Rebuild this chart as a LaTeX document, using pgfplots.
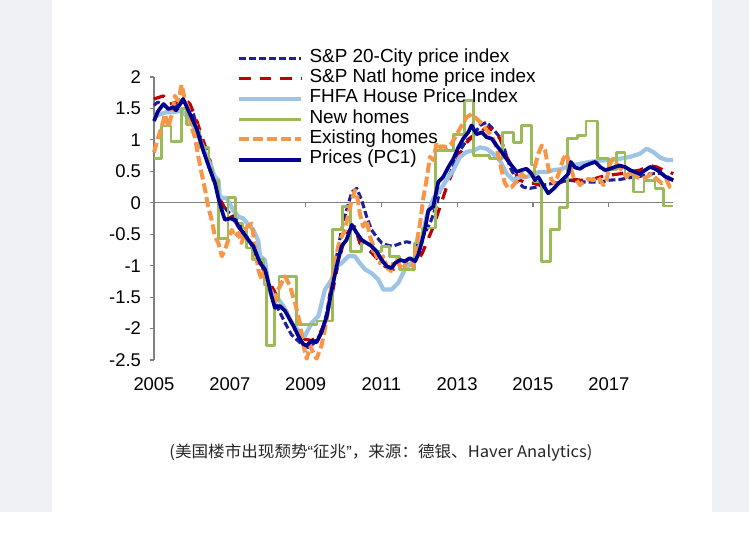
\documentclass[border=0pt]{standalone}
\usepackage{fontspec}
\setmainfont{Liberation Sans}
\newfontfamily\cjk{Noto Sans CJK SC}
\usepackage{graphicx}
\usepackage{pgfplots}
\pgfplotsset{compat=1.18}
\definecolor{bg}{HTML}{F0F1F5}
\definecolor{axgray}{HTML}{808080}
\definecolor{c20}{HTML}{1F1F99}
\definecolor{cnat}{HTML}{C00000}
\definecolor{cfh}{HTML}{9DC3E6}
\definecolor{cnew}{HTML}{9BBB59}
\definecolor{cex}{HTML}{F79646}
\definecolor{cpc}{HTML}{000090}
\definecolor{captxt}{HTML}{262626}
\begin{document}
\begin{tikzpicture}
\useasboundingbox (0bp,0bp) rectangle (749bp,538bp);
\fill[white] (0bp,0bp) rectangle (749bp,538bp);
\fill[bg] (0bp,26bp) rectangle (52bp,538bp);
\fill[bg] (712bp,26bp) rectangle (749bp,538bp);
\begin{axis}[
  at={(154bp,178bp)}, anchor=south west,
  scale only axis, width=519.2bp, height=283bp,
  xmin=2005, xmax=2018.7, ymin=-2.5, ymax=2,
  clip=false,
  axis y line*=left, axis x line*=bottom,
  x axis line style={draw=none},
  y axis line style={draw=axgray, line width=1.1bp},
  xtick={2005,2007,2009,2011,2013,2015,2017},
  xticklabels={2005,2007,2009,2011,2013,2015,2017},
  ytick={-2.5,-2,-1.5,-1,-0.5,0,0.5,1,1.5,2},
  yticklabels={-2.5,-2,-1.5,-1,-0.5,0,0.5,1,1.5,2},
  /pgf/number format/assume math mode=true,
  tick align=outside, major tick length=4.5bp,
  y tick style={draw=axgray, line width=1.1bp},
  x tick style={draw=none},
  y tick label style={font=\fontsize{18.5}{20}\selectfont, xshift=-5bp},
  x tick label style={font=\fontsize{18.5}{20}\selectfont, yshift=-10bp},
  legend style={at={(0.1605,1.102)}, anchor=north west, draw=none, fill=none,
    font=\fontsize{19}{20}\selectfont, inner sep=0pt, outer sep=0pt,
    row sep=0pt, column sep=6bp,
    nodes={inner sep=0pt, text height=14bp, text depth=6.3bp}},
  legend cell align=left,
  legend image code/.code={\draw[#1] (0bp,0bp) -- (62bp,0bp);},
  every axis plot/.append style={line join=round},
]
\draw[axgray, line width=1.1bp] (axis cs:2005,0) -- (axis cs:2018.7,0);
\pgfplotsinvokeforeach{2007,2009,2011,2013,2015,2017}{
  \draw[axgray, line width=1.1bp] (axis cs:#1,0) -- ([yshift=-4.5bp]axis cs:#1,0);
}
\addplot[c20, line width=3.1bp, dash pattern=on 7bp off 3bp] coordinates {
(2005.00,1.55)(2005.10,1.60)(2005.18,1.58)(2005.33,1.52)(2005.50,1.52)(2005.65,1.55)(2005.77,1.62)(2006.04,1.41)(2006.30,0.88)(2006.56,0.41)(2006.74,0.04)(2006.92,-0.12)(2007.18,-0.27)(2007.45,-0.54)(2007.80,-0.91)(2008.06,-1.33)(2008.24,-1.64)(2008.41,-1.85)(2008.52,-1.98)(2008.63,-2.10)(2008.81,-2.20)(2008.94,-2.27)(2009.07,-2.30)(2009.25,-2.22)(2009.42,-2.06)(2009.56,-1.75)(2009.69,-1.27)(2009.82,-0.85)(2009.95,-0.43)(2010.08,-0.12)(2010.22,0.17)(2010.35,0.23)(2010.48,0.04)(2010.61,-0.22)(2010.74,-0.43)(2010.87,-0.54)(2011.01,-0.64)(2011.14,-0.67)(2011.27,-0.69)(2011.40,-0.67)(2011.53,-0.64)(2011.67,-0.62)(2011.80,-0.64)(2011.93,-0.67)(2012.06,-0.56)(2012.15,-0.48)(2012.30,-0.30)(2012.45,-0.05)(2012.55,0.20)(2012.81,0.46)(2013.07,0.83)(2013.25,0.99)(2013.43,1.07)(2013.60,1.23)(2013.78,1.28)(2013.95,1.17)(2014.13,1.04)(2014.26,0.83)(2014.39,0.57)(2014.57,0.36)(2014.74,0.25)(2014.92,0.23)(2015.10,0.25)(2015.27,0.28)(2015.54,0.31)(2015.71,0.33)(2015.98,0.36)(2016.24,0.33)(2016.50,0.33)(2016.77,0.33)(2017.03,0.36)(2017.29,0.37)(2017.56,0.40)(2017.82,0.42)(2018.09,0.46)(2018.35,0.47)(2018.53,0.42)(2018.70,0.36)
};
\addlegendentry{S\&P 20-City price index}
\addplot[cnat, line width=3.2bp, dash pattern=on 11.5bp off 9bp] coordinates {
(2005.00,1.65)(2005.25,1.70)(2005.42,1.57)(2005.60,1.60)(2005.77,1.67)(2005.95,1.57)(2006.13,1.30)(2006.30,0.99)(2006.48,0.67)(2006.65,0.25)(2006.79,-0.01)(2006.96,-0.17)(2007.18,-0.33)(2007.45,-0.59)(2007.71,-0.85)(2007.97,-1.17)(2008.24,-1.48)(2008.41,-1.64)(2008.59,-1.82)(2008.72,-2.02)(2008.98,-2.17)(2009.16,-2.19)(2009.34,-2.12)(2009.51,-1.91)(2009.69,-1.48)(2009.86,-0.96)(2010.04,-0.54)(2010.17,-0.43)(2010.30,-0.38)(2010.43,-0.64)(2010.57,-0.72)(2010.70,-0.77)(2010.83,-0.85)(2010.96,-0.93)(2011.09,-1.01)(2011.27,-1.06)(2011.45,-1.04)(2011.62,-1.01)(2011.80,-0.96)(2011.97,-0.91)(2012.08,-0.80)(2012.19,-0.64)(2012.37,-0.38)(2012.55,-0.06)(2012.72,0.25)(2012.90,0.52)(2013.07,0.78)(2013.25,0.96)(2013.43,1.07)(2013.60,1.12)(2013.78,1.20)(2013.95,1.15)(2014.13,1.02)(2014.31,0.73)(2014.48,0.52)(2014.66,0.36)(2014.83,0.31)(2015.01,0.31)(2015.18,0.28)(2015.36,0.28)(2015.54,0.31)(2015.71,0.32)(2015.98,0.38)(2016.24,0.36)(2016.50,0.36)(2016.77,0.41)(2017.03,0.44)(2017.29,0.46)(2017.56,0.49)(2017.82,0.52)(2018.09,0.59)(2018.26,0.57)(2018.44,0.52)(2018.61,0.49)(2018.70,0.46)
};
\addlegendentry{S\&P Natl home price index}
\addplot[cfh, line width=4.2bp] coordinates {
(2005.00,1.36)(2005.16,1.41)(2005.33,1.44)(2005.51,1.44)(2005.69,1.46)(2005.77,1.44)(2005.95,1.31)(2006.13,1.12)(2006.30,0.88)(2006.48,0.62)(2006.61,0.41)(2006.70,0.36)(2006.74,0.09)(2006.92,0.07)(2007.09,-0.12)(2007.23,-0.22)(2007.36,-0.25)(2007.49,-0.35)(2007.62,-0.43)(2007.75,-0.60)(2007.80,-0.85)(2007.93,-0.91)(2008.02,-1.33)(2008.15,-1.48)(2008.28,-1.53)(2008.41,-1.64)(2008.52,-1.77)(2008.63,-1.91)(2008.85,-2.06)(2008.98,-2.12)(2009.16,-1.91)(2009.34,-1.80)(2009.51,-1.38)(2009.69,-1.22)(2009.82,-1.01)(2009.95,-0.96)(2010.13,-0.85)(2010.30,-0.85)(2010.43,-0.96)(2010.57,-1.06)(2010.74,-1.12)(2010.92,-1.22)(2011.05,-1.38)(2011.27,-1.38)(2011.45,-1.27)(2011.62,-1.06)(2011.80,-0.96)(2011.97,-0.75)(2012.10,-0.50)(2012.19,-0.22)(2012.37,0.07)(2012.55,0.20)(2012.72,0.36)(2012.90,0.52)(2013.07,0.73)(2013.25,0.81)(2013.43,0.83)(2013.60,0.88)(2013.78,0.86)(2013.95,0.78)(2014.13,0.67)(2014.31,0.46)(2014.48,0.36)(2014.66,0.41)(2014.83,0.41)(2015.01,0.46)(2015.18,0.49)(2015.36,0.49)(2015.54,0.52)(2015.71,0.53)(2015.98,0.59)(2016.24,0.62)(2016.50,0.65)(2016.77,0.67)(2017.03,0.68)(2017.29,0.70)(2017.56,0.73)(2017.82,0.78)(2018.00,0.86)(2018.17,0.81)(2018.35,0.72)(2018.53,0.68)(2018.70,0.68)
};
\addlegendentry{FHFA House Price Index}
\addplot[cnew, line width=2.8bp, const plot] coordinates {
(2005.00,0.70)(2005.20,1.22)(2005.45,0.97)(2005.72,1.50)(2005.85,1.25)(2006.12,1.15)(2006.20,0.88)(2006.45,0.55)(2006.55,0.35)(2006.70,-0.57)(2006.95,0.08)(2007.15,-0.33)(2007.35,-0.40)(2007.45,-0.72)(2007.60,-0.90)(2007.90,-1.30)(2007.97,-2.27)(2008.18,-1.55)(2008.30,-1.17)(2008.75,-1.93)(2009.30,-1.88)(2009.72,-0.43)(2009.97,-0.06)(2010.18,-0.78)(2010.48,-0.64)(2010.76,-0.78)(2011.00,-0.69)(2011.22,-0.85)(2011.47,-1.06)(2011.88,-0.64)(2012.08,-0.40)(2012.42,0.83)(2012.90,1.09)(2013.20,1.62)(2013.42,0.75)(2013.85,0.70)(2014.20,1.12)(2014.48,0.96)(2014.70,1.23)(2014.97,0.60)(2015.05,0.33)(2015.22,-0.93)(2015.47,-0.43)(2015.70,-0.08)(2015.92,1.02)(2016.18,1.07)(2016.40,1.30)(2016.70,0.70)(2017.00,0.52)(2017.20,0.80)(2017.43,0.45)(2017.65,0.17)(2017.93,0.36)(2018.22,0.23)(2018.45,-0.05)(2018.70,-0.05)
};
\addlegendentry{New homes}
\addplot[cex, line width=4bp, dash pattern=on 10bp off 4bp] coordinates {
(2005.00,0.80)(2005.11,1.04)(2005.20,1.20)(2005.29,1.41)(2005.38,1.20)(2005.47,1.41)(2005.55,1.70)(2005.64,1.62)(2005.73,1.88)(2005.82,1.62)(2005.91,1.49)(2005.99,1.20)(2006.08,1.04)(2006.17,0.73)(2006.26,0.46)(2006.35,0.20)(2006.43,-0.06)(2006.52,-0.27)(2006.61,-0.54)(2006.70,-0.64)(2006.79,-0.85)(2006.87,-0.75)(2006.96,-0.59)(2007.05,-0.43)(2007.14,-0.54)(2007.23,-0.48)(2007.31,-0.64)(2007.45,-0.38)(2007.58,-0.33)(2007.66,-0.69)(2007.75,-1.06)(2007.84,-1.22)(2007.93,-1.06)(2008.02,-1.33)(2008.10,-1.48)(2008.19,-1.59)(2008.28,-1.38)(2008.37,-1.27)(2008.46,-1.17)(2008.59,-1.33)(2008.72,-1.59)(2008.85,-1.91)(2008.94,-2.27)(2009.03,-2.48)(2009.12,-2.27)(2009.20,-2.38)(2009.29,-2.48)(2009.42,-2.27)(2009.51,-2.01)(2009.60,-1.69)(2009.69,-1.27)(2009.78,-0.96)(2009.86,-0.69)(2009.95,-0.54)(2010.04,-0.43)(2010.13,-0.17)(2010.22,0.04)(2010.30,0.20)(2010.35,0.15)(2010.43,-0.17)(2010.52,-0.38)(2010.61,-0.27)(2010.70,-0.54)(2010.79,-0.69)(2010.87,-0.85)(2010.96,-0.96)(2011.05,-0.85)(2011.14,-1.01)(2011.23,-1.12)(2011.31,-0.96)(2011.40,-0.91)(2011.49,-1.01)(2011.58,-1.06)(2011.67,-0.91)(2011.75,-0.96)(2011.84,-1.01)(2011.93,-0.64)(2012.02,-0.33)(2012.11,0.09)(2012.19,0.36)(2012.28,0.73)(2012.37,0.68)(2012.46,0.96)(2012.55,0.88)(2012.63,0.90)(2012.72,0.88)(2012.85,0.94)(2012.99,1.09)(2013.12,1.23)(2013.25,1.36)(2013.38,1.41)(2013.47,1.36)(2013.56,1.31)(2013.69,1.23)(2013.82,1.12)(2013.91,1.07)(2014.00,0.94)(2014.08,0.78)(2014.17,0.52)(2014.26,0.31)(2014.35,0.23)(2014.44,0.25)(2014.52,0.31)(2014.61,0.36)(2014.70,0.46)(2014.79,0.41)(2014.88,0.52)(2014.96,0.46)(2015.05,0.57)(2015.14,0.78)(2015.23,0.91)(2015.32,0.83)(2015.40,0.57)(2015.49,0.36)(2015.58,0.30)(2015.67,0.45)(2015.80,0.70)(2015.89,0.78)(2015.98,0.57)(2016.07,0.41)(2016.15,0.36)(2016.24,0.28)(2016.33,0.33)(2016.46,0.38)(2016.59,0.36)(2016.72,0.41)(2016.86,0.28)(2016.94,0.36)(2017.03,0.62)(2017.12,0.70)(2017.21,0.62)(2017.34,0.52)(2017.47,0.41)(2017.60,0.52)(2017.74,0.41)(2017.87,0.38)(2018.00,0.41)(2018.13,0.46)(2018.26,0.38)(2018.40,0.31)(2018.53,0.36)(2018.61,0.25)(2018.70,0.23)
};
\addlegendentry{Existing homes}
\addplot[cpc, line width=3.7bp] coordinates {
(2005.00,1.30)(2005.10,1.45)(2005.25,1.57)(2005.38,1.49)(2005.51,1.52)(2005.58,1.47)(2005.69,1.57)(2005.77,1.65)(2005.95,1.41)(2006.13,1.17)(2006.30,0.83)(2006.48,0.52)(2006.61,0.31)(2006.70,0.07)(2006.79,-0.12)(2006.87,-0.27)(2007.01,-0.25)(2007.14,-0.27)(2007.23,-0.38)(2007.36,-0.48)(2007.49,-0.59)(2007.62,-0.69)(2007.80,-0.96)(2007.93,-1.06)(2008.02,-1.27)(2008.10,-1.48)(2008.19,-1.67)(2008.32,-1.64)(2008.46,-1.72)(2008.58,-1.85)(2008.70,-1.98)(2008.81,-2.12)(2008.94,-2.25)(2009.03,-2.27)(2009.16,-2.19)(2009.29,-2.22)(2009.42,-2.06)(2009.56,-1.80)(2009.69,-1.38)(2009.82,-1.01)(2009.95,-0.69)(2010.08,-0.59)(2010.22,-0.35)(2010.35,-0.48)(2010.48,-0.59)(2010.61,-0.64)(2010.74,-0.69)(2010.87,-0.77)(2011.01,-0.91)(2011.14,-1.01)(2011.27,-1.04)(2011.36,-0.96)(2011.49,-0.91)(2011.62,-0.93)(2011.75,-0.88)(2011.89,-0.93)(2011.97,-0.83)(2012.06,-0.64)(2012.15,-0.42)(2012.24,-0.12)(2012.37,-0.06)(2012.50,0.33)(2012.63,0.41)(2012.77,0.57)(2012.90,0.70)(2013.03,0.88)(2013.16,1.02)(2013.29,1.12)(2013.38,1.23)(2013.51,1.09)(2013.65,1.12)(2013.78,1.04)(2013.91,1.02)(2014.04,0.91)(2014.17,0.81)(2014.30,0.70)(2014.44,0.59)(2014.57,0.49)(2014.70,0.52)(2014.83,0.54)(2014.96,0.46)(2015.05,0.36)(2015.14,0.41)(2015.27,0.28)(2015.40,0.15)(2015.50,0.20)(2015.60,0.26)(2015.71,0.33)(2015.85,0.41)(2015.93,0.46)(2016.00,0.65)(2016.11,0.56)(2016.24,0.54)(2016.37,0.59)(2016.50,0.62)(2016.64,0.65)(2016.77,0.57)(2016.90,0.52)(2017.03,0.54)(2017.16,0.57)(2017.29,0.59)(2017.43,0.57)(2017.56,0.52)(2017.69,0.49)(2017.82,0.46)(2017.96,0.52)(2018.09,0.57)(2018.22,0.54)(2018.35,0.49)(2018.48,0.42)(2018.61,0.38)(2018.70,0.36)
};
\addlegendentry{Prices (PC1)}
\end{axis}
\node[text=captxt, inner sep=0pt] at (381bp,85bp) {\resizebox{423bp}{\height}{\cjk\fontsize{16}{18}\selectfont (美国楼市出现颓势{\fontspec{Liberation Sans}“}征兆{\fontspec{Liberation Sans}”}，来源：德银、Haver Analytics)}};
\end{tikzpicture}
\end{document}
